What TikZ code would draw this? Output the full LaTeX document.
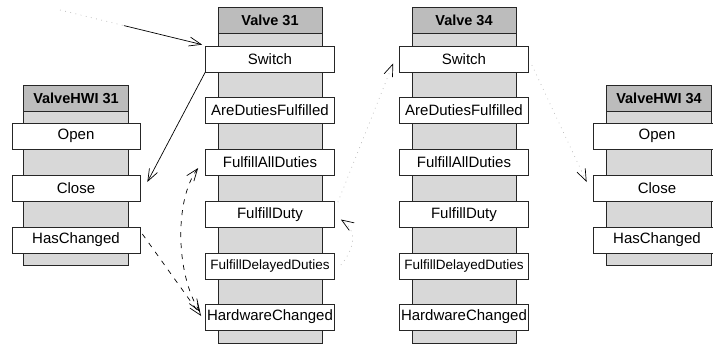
\documentclass[tikz,border=0pt]{standalone}
\usepackage{fontspec}
\setmainfont{Liberation Sans}
\usetikzlibrary{arrows.meta,calc}
\definecolor{headgray}{RGB}{188,188,188}
\definecolor{lifegray}{RGB}{216,216,216}
\begin{document}
\begin{tikzpicture}[x=1pt,y=-1pt,
  frame/.style={draw=black!85, line width=0.7pt},
  lifeline/.style={frame, fill=lifegray, inner sep=0pt, anchor=north},
  header/.style={frame, fill=headgray, minimum height=26pt, inner sep=0pt,
    font=\fontsize{14.5}{16}\selectfont\bfseries},
  method/.style={frame, fill=white, minimum height=26pt, inner sep=0pt,
    font=\fontsize{15}{16}\selectfont},
  small/.style={font=\fontsize{13.5}{16}\selectfont},
  valvew/.style={minimum width=104pt},
  valvebox/.style={minimum width=129pt},
  hwiw/.style={minimum width=105pt},
  hwibox/.style={minimum width=128pt},
  tip/.style={-{Straight Barb[length=12pt,width=9pt,color=black]}},
  call/.style={black, line width=0.7pt, tip},
  async/.style={call, dash pattern=on 5pt off 6pt},
  weak/.style={gray!55, line width=0.7pt, dash pattern=on 0.8pt off 4.5pt, tip}
]
\useasboundingbox (0,0) rectangle (713,345);
\clip (0,0) rectangle (713,345);

% ---- Valve 31 ----
\node[header, valvew] (h31) at (270,20) {Valve 31};
\node[lifeline, valvew, minimum height=310pt] (l31) at (h31.south) {};
\node[method, valvebox] (v31sw)  at (270,59)    {Switch};
\node[method, valvebox] (v31adf) at (270,110.5) {AreDutiesFulfilled};
\node[method, valvebox] (v31fad) at (270,162)   {FulfillAllDuties};
\node[method, valvebox] (v31fd)  at (270,214.5) {FulfillDuty};
\node[method, valvebox, small] (v31fdd) at (270,266) {FulfillDelayedDuties};
\node[method, valvebox] (v31hwc) at (270,317)   {HardwareChanged};

% ---- Valve 34 ----
\node[header, valvew] (h34) at (464,20) {Valve 34};
\node[lifeline, valvew, minimum height=310pt] (l34) at (h34.south) {};
\node[method, valvebox] (v34sw)  at (464,59)    {Switch};
\node[method, valvebox] (v34adf) at (464,110.5) {AreDutiesFulfilled};
\node[method, valvebox] (v34fad) at (464,162)   {FulfillAllDuties};
\node[method, valvebox] (v34fd)  at (464,214.5) {FulfillDuty};
\node[method, valvebox, small] (v34fdd) at (464,266) {FulfillDelayedDuties};
\node[method, valvebox] (v34hwc) at (464,317)   {HardwareChanged};

% ---- ValveHWI 31 ----
\node[header, hwiw] (hh31) at (76,98) {ValveHWI 31};
\node[lifeline, hwiw, minimum height=154pt] (lh31) at (hh31.south) {};
\node[method, hwibox] (w31open)  at (76,136) {Open};
\node[method, hwibox] (w31close) at (76,188) {Close};
\node[method, hwibox] (w31hc)    at (76,240) {HasChanged};

% ---- ValveHWI 34 ----
\node[header, hwiw] (hh34) at (659,98) {ValveHWI 34};
\node[lifeline, hwiw, minimum height=154pt] (lh34) at (hh34.south) {};
\node[method, hwibox] (w34open)  at (657,136) {Open};
\node[method, hwibox] (w34close) at (657,188) {Close};
\node[method, hwibox] (w34hc)    at (657,240) {HasChanged};

% ---- messages ----
% incoming call on Valve 31 Switch, fading in from outside
\coordinate (src) at (60,10);
\coordinate (swin) at ($(v31sw.north west)+(-3,-1)$);
\coordinate (fade) at ($(src)!0.45!(swin)$);
\draw[gray!55, line width=0.7pt, dash pattern=on 0.8pt off 4.5pt] (src) -- (fade);
\draw[call] (fade) -- (swin);

% Switch -> Close
\draw[call] (v31sw.south west) -- ($(w31close.east)+(7,-6)$);

% HasChanged -> HardwareChanged
\draw[async] ($(w31hc.east)+(2,-6)$) -- ($(v31hwc.west)+(-4,-1)$);

% HardwareChanged <-> FulfillAllDuties
\draw[async, {Straight Barb[length=12pt,width=9pt]}-{Straight Barb[length=12pt,width=9pt]}]
  ($(v31hwc.west)+(-5,-5)$) .. controls (176,275) and (174,200) .. ($(v31fad.west)+(-7,6)$);

% FulfillDuty -> Valve 34 Switch
\draw[weak] ($(v31fd.north east)+(3,1)$) -- ($(v34sw.south west)+(-6,-9)$);

% FulfillDelayedDuties -> FulfillDuty (self call)
\draw[weak] ($(v31fdd.east)+(6,-1)$) .. controls (352,252) and (360,232) .. ($(v31fd.east)+(6,5)$);

% Valve 34 Switch -> ValveHWI 34 Close
\draw[weak] ($(v34sw.east)+(3,6)$) -- ($(w34close.west)+(-6,-6)$);
\end{tikzpicture}
\end{document}
